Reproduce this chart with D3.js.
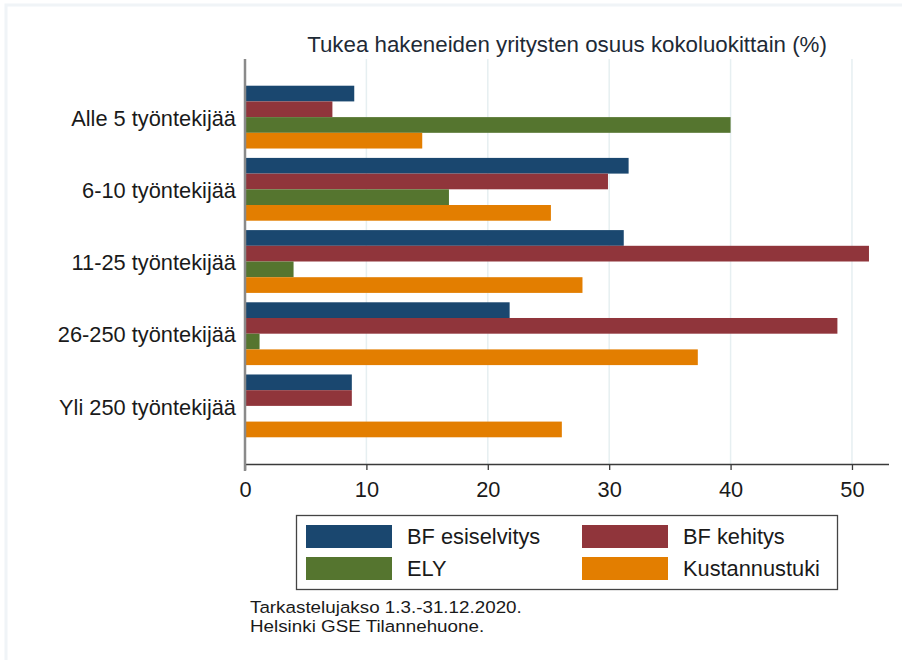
<!DOCTYPE html>
<html>
<head>
<meta charset="utf-8">
<script src="https://cdn.jsdelivr.net/npm/d3@7"></script>
<style>
  html, body { margin: 0; padding: 0; background: #fff; }
  svg { display: block; font-family: "Liberation Sans", Arial, sans-serif; }
</style>
</head>
<body>
<svg id="chart" width="902" height="660"></svg>
<script>
// Size classes (employees) and support types
const categories = ["Alle 5 työntekijää", "6-10 työntekijää", "11-25 työntekijää", "26-250 työntekijää", "Yli 250 työntekijää"];
const seriesNames = ["BF esiselvitys", "BF kehitys", "ELY", "Kustannustuki"];
const bfEsiselvitys = [9.0, 31.6, 31.2, 21.8, 8.8];
const bfKehitys = [7.2, 29.9, 51.4, 48.8, 8.8];
const ely = [40.0, 16.8, 4.0, 1.2, 0];
const kustannustuki = [14.6, 25.2, 27.8, 37.3, 26.1];
const xTicks = [0, 10, 20, 30, 40, 50];
const colors = ["#1a476f", "#90353b", "#55752f", "#e37e00"];
const titleText = "Tukea hakeneiden yritysten osuus kokoluokittain (%)";
const noteLines = ["Tarkastelujakso 1.3.-31.12.2020.", "Helsinki GSE Tilannehuone."];

const seriesValues = [bfEsiselvitys, bfKehitys, ely, kustannustuki];
const FONT = "Liberation Sans, Arial, sans-serif";
const labelSize = 21.8;

const svg = d3.select("#chart");

// faint outer frame of the graph region
svg.append("rect")
  .attr("x", 6).attr("y", 5).attr("width", 910).attr("height", 670)
  .attr("fill", "none").attr("stroke", "#f0f4f7").attr("stroke-width", 3);

const plot = { left: 245, right: 889, top: 59, bottom: 464 };

const x = d3.scaleLinear().domain([0, 53.05]).range([plot.left, plot.right]);
const y = d3.scaleBand().domain(categories).range([plot.top, plot.bottom])
  .paddingInner(0.13).paddingOuter(0.37);
const ySub = d3.scaleBand().domain(seriesNames).range([0, y.bandwidth()]).padding(0);

// vertical gridlines
svg.append("g").selectAll("line")
  .data(xTicks.filter(t => t > 0))
  .join("line")
  .attr("x1", d => x(d)).attr("x2", d => x(d))
  .attr("y1", plot.top).attr("y2", plot.bottom)
  .attr("stroke", "#e6eff1").attr("stroke-width", 1.5);

// bars
const groups = svg.append("g").selectAll("g")
  .data(categories)
  .join("g")
  .attr("transform", d => `translate(0,${y(d)})`);

groups.selectAll("rect")
  .data((c, i) => seriesNames.map((s, j) => ({ s, j, v: seriesValues[j][i] })))
  .join("rect")
  .filter(d => d.v > 0)
  .attr("x", x(0))
  .attr("y", d => ySub(d.s))
  .attr("width", d => x(d.v) - x(0))
  .attr("height", ySub.bandwidth())
  .attr("fill", d => colors[d.j]);

// x axis
const xAxis = d3.axisBottom(x).tickValues(xTicks).tickSize(6).tickPadding(12).tickFormat(d3.format("d"));
const gx = svg.append("g").attr("transform", `translate(0,${plot.bottom})`).call(xAxis);
gx.select(".domain").attr("stroke", "#3a3a3a").attr("stroke-width", 1.5)
  .attr("d", `M${plot.left},0.5H${plot.right}`);
gx.selectAll(".tick line").attr("stroke", "#3a3a3a").attr("stroke-width", 1.3);
gx.selectAll(".tick text").attr("font-size", labelSize).attr("fill", "#1a1a1a")
  .attr("font-family", FONT);

// y axis
const yAxis = d3.axisLeft(y).tickSize(0).tickPadding(9);
const gy = svg.append("g").attr("transform", `translate(${plot.left},0)`).call(yAxis);
gy.select(".domain").attr("stroke", "#8a8a8a").attr("stroke-width", 2.5)
  .attr("d", `M0,${plot.top}V${plot.bottom + 7}`);
gy.selectAll(".tick text").attr("font-size", labelSize).attr("fill", "#1a1a1a")
  .attr("font-family", FONT).attr("dy", "0.4em");

// title
svg.append("text")
  .attr("x", (plot.left + plot.right) / 2).attr("y", 52)
  .attr("text-anchor", "middle")
  .attr("font-size", 22.3).attr("fill", "#1e2a36")
  .text(titleText);

// legend
const legend = svg.append("g");
legend.append("rect")
  .attr("x", 296.5).attr("y", 515.5).attr("width", 541).attr("height", 74)
  .attr("fill", "#fff").attr("stroke", "#444").attr("stroke-width", 1.3);

const legendPos = [
  { x: 306, y: 525 }, { x: 582, y: 525 },
  { x: 306, y: 557 }, { x: 582, y: 557 }
];
seriesNames.forEach((name, i) => {
  const p = legendPos[i];
  legend.append("rect")
    .attr("x", p.x).attr("y", p.y).attr("width", 86).attr("height", 23)
    .attr("fill", colors[i]);
  legend.append("text")
    .attr("x", p.x + 101).attr("y", p.y + 18.5)
    .attr("font-size", labelSize).attr("fill", "#1a1a1a")
    .text(name);
});

// source note: slightly wide, compact lettering
svg.append("g")
  .attr("transform", "translate(250,0) scale(1.14,1)")
  .selectAll("text")
  .data(noteLines)
  .join("text")
  .attr("x", 0).attr("y", (d, i) => 613 + i * 19)
  .attr("font-size", 16.5).attr("fill", "#1a1a1a")
  .text(d => d);
</script>
</body>
</html>
